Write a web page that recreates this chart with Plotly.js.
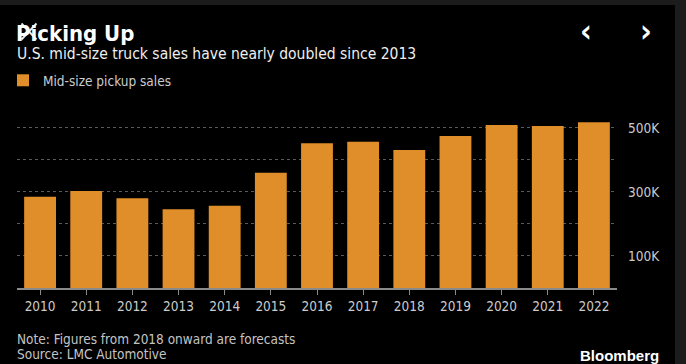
<!DOCTYPE html>
<html>
<head>
<meta charset="utf-8">
<script src="https://cdn.plot.ly/plotly-3.0.1.min.js"></script>
<style>
html,body{margin:0;padding:0;background:#000;}
#chart{width:686px;height:364px;}
</style>
</head>
<body>
<div id="chart"></div>
<script>
var years = ['2010','2011','2012','2013','2014','2015','2016','2017','2018','2019','2020','2021','2022'];
var sales = [285000, 303000, 280000, 246000, 257000, 360000, 452000, 457000, 431000, 475000, 509000, 506000, 518000];
var seriesName = 'Mid-size pickup sales';
var yTickVals = [100000, 200000, 300000, 400000, 500000];
var yTickText = ['100K', '', '300K', '', '500K'];

var FONT = '"DejaVu Sans Condensed", "DejaVu Sans", sans-serif';
var ORANGE = '#E08E29';

var trace = {
  type: 'bar',
  x: years,
  y: sales,
  name: seriesName,
  marker: {color: ORANGE, line: {width: 0}},
  hoverinfo: 'x+y',
  showlegend: true
};

// helpers to convert pixel positions to paper coordinates
var L = 17, R = 617, T = 110, B = 288;
function px(x){ return (x - L) / (R - L); }
function py(y){ return (B - y) / (B - T); }

var layout = {
  width: 686,
  height: 364,
  paper_bgcolor: '#000',
  plot_bgcolor: '#000',
  margin: {l: L, r: 686 - R, t: T, b: 364 - B, pad: 0},
  font: {family: FONT, color: '#cccccc', size: 13},
  title: {
    text: 'Picking Up',
    font: {family: '"DejaVu Sans Condensed", "DejaVu Sans", sans-serif', size: 22, color: '#ffffff', weight: 'bold'},
    xref: 'container', yref: 'container',
    x: 16 / 686, xanchor: 'left',
    y: 1 - 26 / 364, yanchor: 'top'
  },
  bargap: 0.31,
  showlegend: true,
  legend: {
    orientation: 'h',
    xref: 'container', yref: 'container',
    x: 3 / 686, xanchor: 'left',
    y: 1 - 65 / 364, yanchor: 'top',
    font: {family: FONT, size: 13.5, color: '#cccccc'},
    bgcolor: 'rgba(0,0,0,0)',
    itemwidth: 30
  },
  xaxis: {
    type: 'category',
    showgrid: false,
    showline: true,
    linecolor: '#8a8a8a',
    linewidth: 2,
    ticks: 'outside',
    ticklen: 5,
    tickwidth: 1,
    tickcolor: '#8a8a8a',
    tickfont: {family: FONT, size: 13.5, color: '#cccccc'},
    zeroline: false,
    fixedrange: true
  },
  yaxis: {
    side: 'right',
    range: [0, 556000],
    tickvals: yTickVals,
    ticktext: yTickText,
    showgrid: true,
    gridcolor: '#5a5a5a',
    griddash: 'dot',
    gridwidth: 1,
    zeroline: false,
    showline: false,
    ticks: '',
    ticklabelstandoff: 10,
    tickfont: {family: FONT, size: 13.5, color: '#cccccc'},
    fixedrange: true
  },
  shapes: [
    // frame strips at top and right
    {type: 'rect', xref: 'paper', yref: 'paper', x0: px(0), x1: px(686), y0: py(5), y1: py(0), fillcolor: '#1c1c1c', line: {width: 0}, layer: 'below'},
    {type: 'rect', xref: 'paper', yref: 'paper', x0: px(675), x1: px(686), y0: py(364), y1: py(0), fillcolor: '#1c1c1c', line: {width: 0}, layer: 'below'},
    // close-icon overlay over title
    {type: 'line', xref: 'paper', yref: 'paper', x0: px(21.5), y0: py(23.5), x1: px(36.5), y1: py(39.5), line: {color: '#e8e8e8', width: 2}},
    {type: 'line', xref: 'paper', yref: 'paper', x0: px(36.5), y0: py(23.5), x1: px(21.5), y1: py(39.5), line: {color: '#e8e8e8', width: 2}}
  ],
  annotations: [
    {text: 'U.S. mid-size truck sales have nearly doubled since 2013', xref: 'paper', yref: 'paper',
     x: px(15), y: py(54), xanchor: 'left', yanchor: 'middle', showarrow: false,
     font: {family: FONT, size: 15.5, color: '#eeeeee'}},
    {text: '<b>‹</b>', xref: 'paper', yref: 'paper', x: px(586), y: py(31), xanchor: 'center', yanchor: 'middle', showarrow: false,
     font: {family: FONT, size: 32, color: '#ffffff'}},
    {text: '<b>›</b>', xref: 'paper', yref: 'paper', x: px(646), y: py(31), xanchor: 'center', yanchor: 'middle', showarrow: false,
     font: {family: FONT, size: 32, color: '#ffffff'}},
    {text: 'Note: Figures from 2018 onward are forecasts', xref: 'paper', yref: 'paper',
     x: px(15), y: py(339), xanchor: 'left', yanchor: 'middle', showarrow: false,
     font: {family: FONT, size: 13.5, color: '#c4c4c4'}},
    {text: 'Source: LMC Automotive', xref: 'paper', yref: 'paper',
     x: px(15), y: py(354), xanchor: 'left', yanchor: 'middle', showarrow: false,
     font: {family: FONT, size: 13.5, color: '#c4c4c4'}},
    {text: '<b>Bloomberg</b>', xref: 'paper', yref: 'paper',
     x: px(661), y: py(355), xanchor: 'right', yanchor: 'middle', showarrow: false,
     font: {family: '"Liberation Sans", Arial, sans-serif', size: 15, color: '#ffffff'}}
  ]
};

Plotly.newPlot('chart', [trace], layout, {displayModeBar: false, staticPlot: true});
</script>
</body>
</html>
